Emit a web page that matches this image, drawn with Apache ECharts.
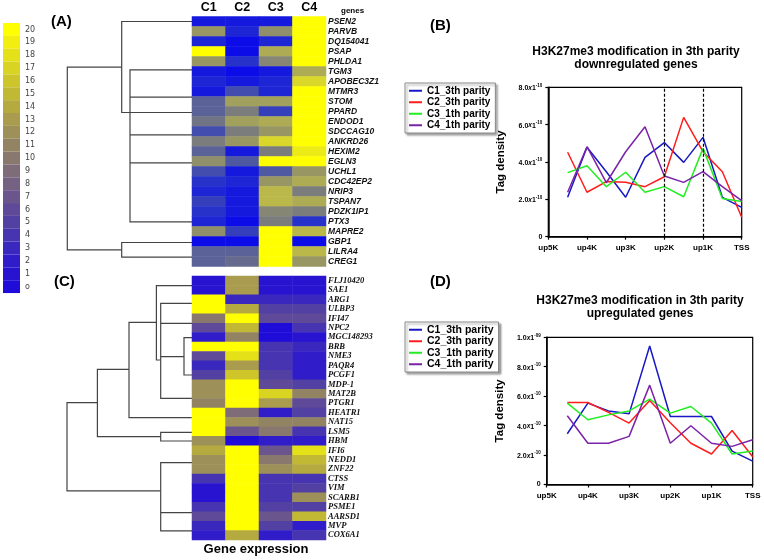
<!DOCTYPE html>
<html><head><meta charset="utf-8">
<script src="https://cdn.jsdelivr.net/npm/echarts@6/dist/echarts.min.js"></script>
<style>html,body{margin:0;padding:0;background:#fff}#c{width:764px;height:560px}</style>
</head><body><div id="c"></div>
<script>
// ---------- heatmap data ----------
const conds = ['C1', 'C2', 'C3', 'C4'];
const genesA = ['PSEN2','PARVB','DQ154041','PSAP','PHLDA1','TGM3','APOBEC3Z1','MTMR3','STOM','PPARD','ENDOD1','SDCCAG10','ANKRD26','HEXIM2','EGLN3','UCHL1','CDC42EP2','NRIP3','TSPAN7','PDZK1IP1','PTX3','MAPRE2','GBP1','LILRA4','CREG1'];
const valuesA = [
  [1,1,1,20],[13,2,12,20],[2,0,2,20],[20,0,15,20],[13,3,11,20],
  [1,0,1,15],[2,1,2,18],[1,5,2,20],[7,14,14,20],[7,10,4,20],
  [9,14,15,20],[5,10,13,20],[10,13,18,20],[7,1,10,19],[12,6,20,20],
  [5,1,6,13],[3,2,13,15],[2,1,16,10],[4,1,16,15],[3,1,11,10],
  [2,0,10,3],[12,4,20,16],[0,0,20,0],[7,7,20,16],[7,8,20,13]
];
const genesC = ['FLJ10420','SAE1','ARG1','ULBP3','IFI47','NPC2','MGC148293','BRB','NME3','PAQR4','PCGF1','MDP-1','MAT2B','PTGR1','HEATR1','NAT15','LSM5','HBM','IFI6','NEDD1','ZNF22','CTSS','VIM','SCARB1','PSME1','AARSD1','MVP','COX6A1'];
const valuesC = [
  [1,13,1,1],[1,13,1,1],[20,3,3,3],[20,14,5,5],[10,20,6,6],
  [6,15,0,4],[2,11,0,1],[20,20,4,3],[6,18,4,2],[3,13,4,2],
  [5,16,5,2],[12,20,6,5],[12,20,17,11],[11,20,13,6],[20,9,2,5],
  [20,12,11,11],[20,7,10,4],[12,0,2,2],[14,20,7,18],[12,20,10,15],
  [12,20,12,14],[4,20,4,4],[1,20,4,5],[1,20,4,12],[4,20,5,5],
  [6,20,7,15],[3,20,5,2],[2,14,2,4]
];
// dendrograms: polylines of [merge height, row position]
const dendroA = [
  [[70.3,4.56],[124.7,4.56],[124.7,22.83],[70.3,22.83]],
  [[0,0],[70.3,0],[70.3,9.1],[0,9.1]],
  [[0,4.83],[62,4.83],[62,20.03],[0,20.03]],
  [[0,7.56],[62,7.56]],
  [[0,11.33],[62,11.33]],
  [[0,14.13],[62,14.13]],
  [[0,22.1],[70.3,22.1],[70.3,23.56],[0,23.56]]
];
const dendroC = [
  [[94.6,12.94],[125,12.94],[125,22.3],[31.3,22.3]],
  [[63,9.4],[94.6,9.4],[94.6,16.54],[31.3,16.54]],
  [[35.6,4.41],[63,4.41],[63,14.53],[0,14.53]],
  [[0,0.53],[35.6,0.53],[35.6,8.41],[31.3,8.41]],
  [[0,2.4],[31.3,2.4],[31.3,12.47],[0,12.47]],
  [[0,4.52],[31.3,4.52]],
  [[8,8.05],[31.3,8.05]],
  [[0,6.04],[8,6.04],[8,10],[0,10]],
  [[0,16.08],[31.3,16.08],[31.3,17],[0,17]],
  [[0,19.3],[31.3,19.3],[31.3,26.54],[0,26.54]],
  [[0,24.6],[31.3,24.6]]
];
const scaleValues = [20,19,18,17,16,15,14,13,12,11,10,9,8,7,6,5,4,3,2,1,0];
const scaleLabels = ['20','19','18','17','16','15','14','13','12','11','10','9','8','7','6','5','4','3','2','1','o'];

// ---------- line chart data (units of 1e-10) ----------
const positions = ['up5K','up4K','up3K','up2K','up1K','TSS'];
const binX = [0.5,1,1.5,2,2.5,3,3.5,4,4.5,5];
const seriesNames = ['C1_3th parity','C2_3th parity','C3_1th parity','C4_1th parity'];
const downC1 = [2.11,4.79,3.48,2.11,4.25,5.04,3.98,5.32,2.11,1.57];
const downC2 = [4.52,2.38,2.95,2.91,2.68,3.21,6.39,4.55,3.48,1.04];
const downC3 = [3.43,3.8,2.68,3.45,2.38,2.68,2.14,4.73,2.05,1.88];
const downC4 = [2.38,4.82,2.89,4.55,5.89,3.25,2.91,3.48,2.68,1.93];
const upC1 = [3.45,5.53,5.0,4.8,9.41,4.62,4.62,4.62,2.27,1.59];
const upC2 = [5.57,5.57,4.9,4.17,5.7,4.2,2.8,2.07,3.67,1.89];
const upC3 = [5.53,4.4,4.73,5.0,5.8,4.85,5.3,4.17,2.07,2.27];
const upC4 = [4.67,2.8,2.8,3.27,6.75,2.8,3.99,2.8,2.59,3.04];
const yTicksB = ['0','2.0|-10','4.0|-10','6.0|-10','8.0|-10'];
const yTicksD = ['0','2.0|-10','4.0|-10','6.0|-10','8.0|-10','1.0|-09'];
const dashedAt = [3, 4];

// ---------- styles ----------
const lineColors = ['#1818c4','#ff1c1c','#20ee20','#7a22a8'];
const scaleColors = ['#ffff00','#f2ef10','#e5e118','#d9d322','#cdc52a','#c1b834','#b5aa40','#a99c4e','#9d9058','#928462','#88786e','#7e6c78','#756282','#6a568c','#5e4a98','#5240a2','#4634b0','#3a28be','#301cc8','#2814d0','#200cd8'];
const paletteA = ['#0c0ce8','#2530cc','#4c56a4','#6c7088','#8a8a70','#a4a25a','#c8c63c','#ffff00'];

function heatData(vals){const d=[];vals.forEach((r,i)=>r.forEach((v,j)=>d.push([j,i,v])));return d;}
function yFmt(ticks){return function(v){const s=ticks[Math.round(v/2)];if(s===undefined)return '';if(s.indexOf('|')<0)return '{n|'+s+'}';const p=s.split('|');return '{n|'+p[0]+'}{x|x}{n|1}{s|'+p[1]+'}';};}
const richY = {
  n:{fontSize:7,fontWeight:'bold',color:'#000',fontFamily:'Liberation Sans, Arial',verticalAlign:'bottom'},
  x:{fontSize:6.5,fontWeight:'bold',fontStyle:'italic',color:'#000',fontFamily:'Liberation Sans, Arial',verticalAlign:'bottom'},
  s:{fontSize:4.5,fontWeight:'bold',color:'#000',fontFamily:'Liberation Sans, Arial',padding:[0,0,4,0],verticalAlign:'bottom'}
};
const F = 'Liberation Sans, Arial, sans-serif';

function lineAxes(gi, ymax, ticks){
  return {
    x:{type:'value',gridIndex:gi,min:0,max:5,interval:1,
       axisLine:{lineStyle:{color:'#000',width:1.5}},axisTick:{show:true,length:3,lineStyle:{color:'#000',width:1.2}},
       splitLine:{show:false},
       axisLabel:{margin:7,fontSize:8,fontWeight:'bold',color:'#000',fontFamily:F,formatter:v=>positions[Math.round(v)]}},
    y:{type:'value',gridIndex:gi,min:0,max:ymax,interval:2,
       name:'Tag density',nameLocation:'middle',nameGap:41,
       nameTextStyle:{fontSize:11.5,fontWeight:'bold',color:'#000',fontFamily:F},
       axisLine:{show:true,lineStyle:{color:'#000',width:1.5}},axisTick:{show:true,length:3,lineStyle:{color:'#000',width:1.2}},
       splitLine:{show:false},
       axisLabel:{margin:6,formatter:yFmt(ticks),rich:richY}}
  };
}
const axB = lineAxes(4, 8, yTicksB);
const axD = lineAxes(5, 10, yTicksD);

const series = [
  {type:'lines',coordinateSystem:'cartesian2d',xAxisIndex:0,yAxisIndex:0,polyline:true,silent:true,
   lineStyle:{color:'#444',width:1.2,opacity:1},data:dendroA.map(c=>({coords:c}))},
  {type:'heatmap',xAxisIndex:1,yAxisIndex:1,data:heatData(valuesA),silent:true,itemStyle:{borderWidth:0}},
  {type:'lines',coordinateSystem:'cartesian2d',xAxisIndex:2,yAxisIndex:2,polyline:true,silent:true,
   lineStyle:{color:'#444',width:1.2,opacity:1},data:dendroC.map(c=>({coords:c}))},
  {type:'heatmap',xAxisIndex:3,yAxisIndex:3,data:heatData(valuesC),silent:true,itemStyle:{borderWidth:0}}
];
const downs=[downC1,downC2,downC3,downC4], ups=[upC1,upC2,upC3,upC4];
downs.forEach((arr,k)=>{
  const s={type:'line',name:seriesNames[k],xAxisIndex:4,yAxisIndex:4,showSymbol:false,symbol:'none',
    lineStyle:{color:lineColors[k],width:1.5},itemStyle:{color:lineColors[k]},
    data:arr.map((v,i)=>[binX[i],v]),silent:true};
  if(k===0){s.markLine={silent:true,symbol:'none',label:{show:false},lineStyle:{color:'#000',type:[3,2],width:1.2},data:dashedAt.map(x=>({xAxis:x}))};}
  series.push(s);
});
ups.forEach((arr,k)=>{
  series.push({type:'line',name:seriesNames[k],xAxisIndex:5,yAxisIndex:5,showSymbol:false,symbol:'none',
    lineStyle:{color:lineColors[k],width:1.5},itemStyle:{color:lineColors[k]},
    data:arr.map((v,i)=>[binX[i],v]),silent:true});
});

function legendAt(left, top, fs){
  return {orient:'vertical',left:left,top:top,data:seriesNames,icon:'rect',itemWidth:13,itemHeight:2,itemGap:0,
    selectedMode:false,padding:[2,5,2,4],borderColor:'#888',borderWidth:1,backgroundColor:'#fff',
    shadowColor:'rgba(0,0,0,0.35)',shadowBlur:2,shadowOffsetX:2,shadowOffsetY:2,
    textStyle:{fontSize:fs,fontWeight:'bold',color:'#000',fontFamily:F,lineHeight:11.5}};
}

const option = {
  animation:false,
  backgroundColor:'#fff',
  grid:[
    {left:60,top:16.5,width:132,height:250},
    {left:192,top:16.5,width:134,height:250},
    {left:60,top:276,width:132,height:264},
    {left:192,top:276,width:134,height:264},
    {left:548.3,top:87.3,width:193.4,height:149.4,show:true,borderColor:'#000',borderWidth:1.2},
    {left:546.7,top:337.3,width:206,height:147.2,show:true,borderColor:'#000',borderWidth:1.2}
  ],
  xAxis:[
    {type:'value',gridIndex:0,min:0,max:132,inverse:true,show:false},
    {type:'category',gridIndex:1,data:conds,position:'top',axisLine:{show:false},axisTick:{show:false},
     axisLabel:{margin:2,fontSize:12.5,fontWeight:'bold',color:'#000',fontFamily:F}},
    {type:'value',gridIndex:2,min:0,max:132,inverse:true,show:false},
    {type:'category',gridIndex:3,data:conds,show:false},
    axB.x, axD.x
  ],
  yAxis:[
    {type:'value',gridIndex:0,min:-0.5,max:24.5,inverse:true,show:false},
    {type:'category',gridIndex:1,data:genesA,inverse:true,position:'right',axisLine:{show:false},axisTick:{show:false},
     axisLabel:{margin:2,fontSize:8.5,fontWeight:'bold',fontStyle:'italic',color:'#111',fontFamily:F,interval:0}},
    {type:'value',gridIndex:2,min:-0.5,max:27.5,inverse:true,show:false},
    {type:'category',gridIndex:3,data:genesC,inverse:true,position:'right',axisLine:{show:false},axisTick:{show:false},
     axisLabel:{margin:2,fontSize:8.5,fontWeight:'bold',fontStyle:'italic',color:'#111',fontFamily:'Liberation Serif, Times New Roman, serif',interval:0}},
    axB.y, axD.y
  ],
  visualMap:[
    {type:'piecewise',seriesIndex:3,dimension:2,left:3,top:23,padding:0,orient:'vertical',itemWidth:17,itemHeight:12.86,itemGap:0,
     itemSymbol:'rect',textGap:5,selectedMode:false,hoverLink:false,
     textStyle:{fontSize:8,color:'#444',fontFamily:'DejaVu Sans, sans-serif'},
     pieces:scaleValues.map((v,i)=>({value:v,label:scaleLabels[i],color:scaleColors[i]}))},
    {type:'continuous',seriesIndex:1,dimension:2,min:0,max:20,show:false,inRange:{color:paletteA}}
  ],
  legend:[legendAt(405,83,10), legendAt(405,322,10.5)],
  graphic:[
    {type:'text',left:51,top:14,style:{text:'(A)',font:'bold 15px '+F,fill:'#000'}},
    {type:'text',left:54,top:274,style:{text:'(C)',font:'bold 15px '+F,fill:'#000'}},
    {type:'text',left:430,top:18,style:{text:'(B)',font:'bold 15px '+F,fill:'#000'}},
    {type:'text',left:430,top:274,style:{text:'(D)',font:'bold 15px '+F,fill:'#000'}},
    {type:'text',left:341,top:7,style:{text:'genes',font:'bold 8px '+F,fill:'#000'}},
    {type:'text',x:256,y:549,style:{text:'Gene expression',font:'bold 13px '+F,fill:'#000',align:'center',verticalAlign:'middle'}},
    {type:'text',x:636,y:58,style:{text:'H3K27me3 modification in 3th parity\ndownregulated genes',font:'bold 12px '+F,fill:'#000',align:'center',verticalAlign:'middle',lineHeight:12.7}},
    {type:'text',x:640,y:307,style:{text:'H3K27me3 modification in 3th parity\nupregulated genes',font:'bold 12px '+F,fill:'#000',align:'center',verticalAlign:'middle',lineHeight:12.7}}
  ],
  series:series
};
const chart = echarts.init(document.getElementById('c'),null,{renderer:'canvas',width:764,height:560});
chart.setOption(option);
</script></body></html>
